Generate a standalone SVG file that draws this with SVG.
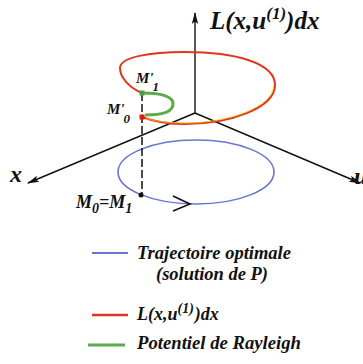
<svg xmlns="http://www.w3.org/2000/svg" width="363" height="364" viewBox="0 0 363 364">
<defs>
<marker id="ah" viewBox="0 0 12 8" refX="11" refY="4" markerWidth="12" markerHeight="8" markerUnits="userSpaceOnUse" orient="auto">
<path d="M0,0.8 L12,4 L0,7.2 L2.5,4 Z" fill="#111"/>
</marker>
<style>
.ax{stroke:#111;stroke-width:1.4;fill:none}
.lbl{font-family:"Liberation Serif","Times New Roman",serif;font-weight:bold;font-style:italic;fill:#111}
.blue{stroke:#6675d2;stroke-width:1.6;fill:none}
.red{stroke:#e2361c;stroke-width:2;fill:none}
.green{stroke:#5aac4a;stroke-width:3;fill:none}
</style>
</defs>
<rect width="363" height="364" fill="#fff"/>
<g id="connectors">
<line class="ax" x1="195" y1="113" x2="195" y2="13" marker-end="url(#ah)"/>
<line class="ax" x1="195" y1="113" x2="28" y2="183" marker-end="url(#ah)"/>
<line class="ax" x1="195" y1="113" x2="360" y2="183" marker-end="url(#ah)"/>
</g>
<g id="trajectoire">
<ellipse class="blue" cx="196" cy="172" rx="78" ry="32"/>
<polyline points="173,196 190,204 173,211" fill="none" stroke="#111" stroke-width="1.6"/>
</g>
<g id="lagrangien">
<path class="red" d="M142,117 C155,122 170,124 185,124 C230,124 275,108 275,85 C275,63 235,52 185,52 C150,52 120,57 120,68 C120,78 130,88 142,93"/>
<path d="M146,118.5 C158,122 172,123 185,123 C228,123 273,107 273.5,86" fill="none" stroke="#f2c21a" stroke-width="0.8"/>
</g>
<g id="rayleigh">
<path class="green" d="M142,93 C158,93 173,95 173,104 C173,113 160,115 145,115"/>
</g>
<g id="verticale">
<line x1="142" y1="93" x2="142" y2="195" stroke="#111" stroke-width="1.5" stroke-dasharray="8 3"/>
<rect x="139.5" y="90.5" width="5" height="5" fill="#4aa040"/>
<rect x="139.5" y="114.5" width="5" height="5" fill="#e01818"/>
<circle cx="141" cy="195" r="2.5" fill="#111"/>
</g>
<g id="labels">
<text class="lbl" x="210" y="29" font-size="25">L(x,u<tspan font-size="17" dy="-10">(1)</tspan><tspan dy="10">)dx</tspan></text>
<text class="lbl" x="10" y="182" font-size="24">x</text>
<text class="lbl" x="354" y="184" font-size="24">u</text>
<text class="lbl" x="136" y="83" font-size="15">M'<tspan font-size="13" dx="-1" dy="8">1</tspan></text>
<text class="lbl" x="107" y="114" font-size="15">M'<tspan font-size="13" dx="-1" dy="9">0</tspan></text>
<text class="lbl" x="76" y="208" font-size="18">M<tspan font-size="14" dy="5">0</tspan><tspan dy="-5">=M</tspan><tspan font-size="14" dy="5">1</tspan></text>
</g>
<g id="legende">
<line x1="92" y1="253" x2="128" y2="253" stroke="#6675d2" stroke-width="2"/>
<text class="lbl" x="137" y="259" font-size="18.5">Trajectoire optimale</text>
<text class="lbl" x="212" y="280" font-size="18.5" text-anchor="middle">(solution de P)</text>
<line x1="92" y1="315" x2="128" y2="315" stroke="#e2361c" stroke-width="2.5"/>
<text class="lbl" x="137" y="320" font-size="18">L(x,u<tspan font-size="14" dy="-7">(1)</tspan><tspan dx="1" dy="7">)dx</tspan></text>
<line x1="88" y1="345" x2="125" y2="345" stroke="#5aac4a" stroke-width="3"/>
<text class="lbl" x="137" y="349" font-size="18.7">Potentiel de Rayleigh</text>
</g>
</svg>
